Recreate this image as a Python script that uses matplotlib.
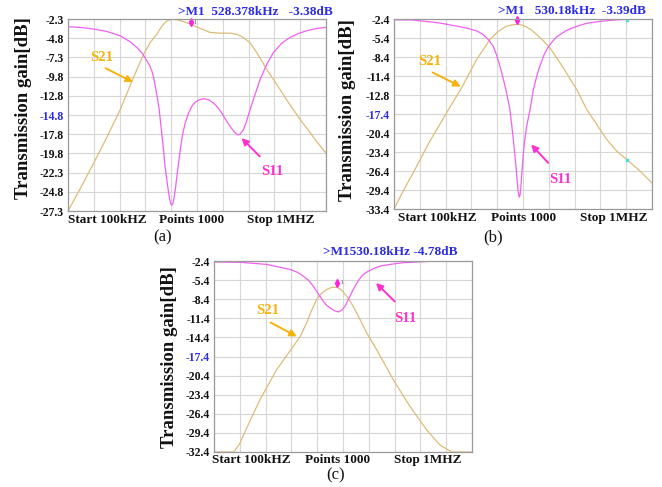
import numpy as np
import matplotlib
matplotlib.use("Agg")
import matplotlib.pyplot as plt

plt.rcParams['font.family'] = ['Liberation Serif', 'DejaVu Serif']

# ---- data (frequency in kHz, gain in dB) ----
a_s21_f = [100, 143, 189.4, 235.8, 282.3, 323, 363.6, 386.8, 410.1, 422, 433.3, 445, 456.5, 468, 479.7,
           491, 503, 526.2, 561, 595.9, 630.7, 665.6, 690, 712, 735, 758.4, 775, 793.3, 815, 839.7,
           862, 886.2, 910, 932.6, 967.5, 1000]
a_s21_db = [-27.3, -24.37, -21.09, -17.68, -14.1, -10.39, -6.89, -5.36, -4.27, -3.55, -2.96, -2.55, -2.39,
            -2.33, -2.39, -2.5, -2.65, -2.96, -3.52, -4.05, -4.14, -4.14, -4.3, -4.7, -5.4, -6.67, -7.7,
            -8.86, -10.1, -11.48, -12.8, -14.1, -15.4, -16.5, -18.25, -19.78]
a_s11_f = [100, 143, 189.4, 235.8, 282.3, 317.2, 340.4, 360, 375.2, 384, 392.6, 398.5, 404.3, 411, 418.2,
           425, 433.3, 438, 444.9, 450, 454.2, 458, 462.3, 466, 470.5, 475, 479.7, 491.4, 500, 508.8, 520,
           532, 543, 555.2, 566, 578.5, 592, 607.5, 622, 636.5, 650, 665.6, 680, 691.1, 700, 712, 723,
           735.2, 752, 770.1, 793.3, 816.5, 845.5, 874.6, 903, 932.6, 965, 1000]
a_s11_db = [-3.31, -3.39, -3.61, -3.92, -4.49, -5.27, -6.02, -6.8, -7.76, -8.3, -9.07, -9.9, -11.04, -12.4,
            -14.1, -16.5, -19.35, -21.3, -23.28, -24.7, -25.68, -26.25, -26.56, -26.3, -25.46, -24.3,
            -22.84, -19.35, -17.3, -15.85, -14.6, -13.66, -13.15, -12.88, -12.72, -12.7, -12.85, -13.23,
            -13.8, -14.54, -15.4, -16.29, -17.0, -17.38, -17.3, -16.72, -15.6, -14.1, -12.2, -10.17,
            -8.2, -6.67, -5.45, -4.7, -4.2, -3.83, -3.55, -3.39]

b_s21_f = [100, 131.5, 166.5, 224.7, 283, 335.5, 388, 434.6, 460, 481.2, 495, 510.4, 522, 533.7, 548,
           562.8, 580, 597.8, 620, 644.4, 667, 691.1, 714, 737.7, 772.7, 807.6, 842.6, 877.6, 912.6,
           959.2, 1000]
b_s21_db = [-32.4, -29.61, -26.72, -21.72, -17.24, -13.29, -8.82, -5.66, -4.5, -3.82, -3.5, -3.35, -3.27,
            -3.24, -3.38, -3.66, -4.15, -4.87, -5.8, -6.98, -8.5, -10.14, -11.85, -13.56, -16.72, -19.08,
            -21.45, -23.29, -24.61, -26.45, -28.29]
b_s11_f = [100, 166.5, 259.7, 353, 390, 411.3, 430, 446.2, 458, 469.6, 481, 492.9, 504.5, 510, 516.2,
           521, 525.5, 529, 532.5, 535, 537.2, 539.5, 541.8, 544.5, 547.7, 551, 554.7, 562.8, 574.5,
           586.1, 597.8, 606, 615.3, 623, 632.8, 644, 656.1, 667, 679.4, 700, 720, 737.7, 770, 819.3,
           870, 912.6, 1000]
b_s11_db = [-2.51, -2.56, -3.03, -3.82, -4.3, -4.87, -5.7, -6.72, -8.1, -9.87, -11.8, -14.08, -16.72,
            -18.9, -21.45, -23.6, -25.66, -27.6, -29.35, -30.2, -30.51, -30.2, -29.35, -27.6, -25.66,
            -23.8, -21.98, -19.35, -16.72, -13.56, -11.45, -10.2, -9.08, -8.1, -7.24, -6.45, -5.77, -5.25,
            -4.87, -4.25, -3.85, -3.56, -3.1, -2.77, -2.55, -2.45, -2.42]

c_s21_f = [100, 168.8, 189.8, 213.1, 259.7, 318, 399.6, 422.9, 440, 457.9, 475, 492.9, 510, 527.8, 545,
           562.8, 580, 597.8, 632.8, 667.7, 726, 784.3, 842.6, 889.2, 930, 1000]
c_s21_db = [-32.4, -32.4, -31.08, -28.72, -24.24, -19.51, -14.35, -12.14, -10.2, -8.45, -7.5, -6.87, -6.55,
            -6.51, -6.95, -7.93, -9.1, -10.56, -13.72, -16.35, -21.08, -25.29, -28.98, -31.35, -32.4, -32.4]
c_s11_f = [100, 189.8, 283, 364.6, 390, 411.3, 430, 446.2, 463, 481.2, 493, 504.5, 520, 533.7, 546, 557,
           566, 574.5, 583, 592, 606, 621.1, 638, 656.1, 679.4, 720, 761, 854.3, 1000]
c_s11_db = [-2.55, -2.6, -2.93, -3.72, -4.15, -4.77, -5.45, -6.35, -7.5, -8.72, -9.35, -9.77, -10.2,
            -10.4, -10.1, -9.51, -8.7, -7.93, -7.1, -6.35, -5.3, -4.51, -4.0, -3.61, -3.19, -2.9, -2.66,
            -2.45, -2.42]

m1_freq = [528.378, 530.18, 530.18]
m1_db_drawn = [-2.75, -2.5, -5.8]
m1_text = [">M1  528.378kHz   -3.38dB", ">M1   530.18kHz  -3.39dB", ">M1530.18kHz -4.78dB"]

a_ylabels = ['-2.3', '-4.8', '-7.3', '-9.8', '-12.8', '-14.8', '-17.8', '-19.8', '-22.3', '-24.8', '-27.3']
b_ylabels = ['-2.4', '-5.4', '-8.4', '-11.4', '-12.8', '-17.4', '-20.4', '-23.4', '-26.4', '-29.4', '-33.4']
c_ylabels = ['-2.4', '-5.4', '-8.4', '-11.4', '-14.4', '-17.4', '-20.4', '-23.4', '-26.4', '-29.4', '-32.4']
x_labels = ['Start 100kHZ', 'Points 1000', 'Stop 1MHZ']

S21_COL = '#dcbd78'
S11_COL = '#f060f0'
S21_TXT = '#f5b20a'
S11_TXT = '#ff30d0'
BLUE = '#2a2ae8'

fig = plt.figure(figsize=(6.62, 4.87), dpi=100)


def panel(rect, top, step, ylabels, s21, s11, mk, hdr_xy, xl_pos, s21_ann, s11_ann, show_one=True):
    ax = fig.add_axes(rect)
    ax.set_xlim(100, 1000)
    ax.set_ylim(top - 10 * step, top)
    ax.set_xticks(np.linspace(100, 1000, 11))
    ax.set_yticks(np.linspace(top, top - 10 * step, 11))
    ax.set_xticklabels([])
    ax.set_yticklabels(ylabels, fontsize=8.5, fontweight='bold')
    for i, t in enumerate(ax.get_yticklabels()):
        t.set_color(BLUE if i == 5 else '#111111')
    ax.tick_params(length=0, pad=3)
    ax.grid(True, color='#d6d6d6', lw=0.8)
    for s in ax.spines.values():
        s.set_color('#9a9a9a')
        s.set_linewidth(0.9)
    ax.plot(s21[0], s21[1], color=S21_COL, lw=0.9)
    ax.plot(s11[0], s11[1], color=S11_COL, lw=0.9)
    ax.plot([mk[0]], [mk[1]], marker='d', color='#ff20e0', ms=4, clip_on=False)
    if show_one:
        ax.text(mk[0] + 10, mk[1], '1', fontsize=4, color='#444444', va='center')
    ax.text(hdr_xy[0], hdr_xy[1], mk[2], transform=ax.transAxes, ha='right', va='center',
            fontsize=9.5, fontweight='bold', color=BLUE)
    for lab, (x, ha) in zip(x_labels, xl_pos[0]):
        ax.text(x, xl_pos[1], lab, transform=ax.transAxes, ha=ha, va='center',
                fontsize=9.5, fontweight='bold', color='#111111')
    for name, col, (txt, tail, head) in (('S21', S21_TXT, s21_ann), ('S11', S11_TXT, s11_ann)):
        ax.text(txt[0], txt[1], name, transform=ax.transAxes, ha='center', va='center',
                fontsize=10.5, fontweight='bold', color=col)
        ax.annotate('', xy=head, xytext=tail, xycoords='axes fraction',
                    arrowprops=dict(arrowstyle='-|>', color=col, lw=1.4, mutation_scale=10))
    return ax


# (a)
panel([68 / 662, 1 - 211 / 487, 258 / 662, 192 / 487], -2.3, 2.5, a_ylabels,
      (a_s21_f, a_s21_db), (a_s11_f, a_s11_db), (m1_freq[0], m1_db_drawn[0], m1_text[0]),
      (1.025, 1.037),
      ([(0.0, 'left'), (0.479, 'center'), (0.957, 'right')], -0.047),
      ((0.132, 0.80), (0.136, 0.75), (0.262, 0.665)),
      ((0.79, 0.205), (0.751, 0.274), (0.665, 0.39)))
# (b)
axb = panel([394 / 662, 1 - 209 / 487, 258 / 662, 190 / 487], -2.4, 3.0, b_ylabels,
            (b_s21_f, b_s21_db), (b_s11_f, b_s11_db), (m1_freq[1], m1_db_drawn[1], m1_text[1]),
            (0.975, 1.04),
            ([(0.016, 'left'), (0.504, 'center'), (0.984, 'right')], -0.047),
            ((0.14, 0.775), (0.14, 0.725), (0.268, 0.638)),
            ((0.643, 0.153), (0.605, 0.232), (0.524, 0.35)), show_one=False)
axb.plot([912.6, 912.6], [-24.6, -2.5], ls='none', marker='s', ms=1.5, color='#40e0e0')
# (c)
panel([214 / 662, 1 - 452 / 487, 258 / 662, 191 / 487], -2.4, 3.0, c_ylabels,
      (c_s21_f, c_s21_db), (c_s11_f, c_s11_db), (m1_freq[2], m1_db_drawn[2], m1_text[2]),
      (0.945, 1.045),
      ([(-0.009, 'left'), (0.478, 'center'), (0.96, 'right')], -0.042),
      ((0.207, 0.74), (0.21, 0.685), (0.33, 0.598)),
      ((0.74, 0.70), (0.708, 0.778), (0.62, 0.895)))

for x, y in ((24, 108), (347, 110), (169, 357)):
    fig.text(x / 662, 1 - y / 487, 'Transmission gain[dB]', rotation=90, ha='center', va='center',
             fontsize=13.5, fontweight='bold', color='#111111')
for x, y, lab in ((163, 237, '(a)'), (493, 237, '(b)'), (336, 475, '(c)')):
    fig.text(x / 662, 1 - y / 487, lab, ha='center', va='center', fontsize=12, color='#111111')

fig.savefig('out.png', dpi=100)
